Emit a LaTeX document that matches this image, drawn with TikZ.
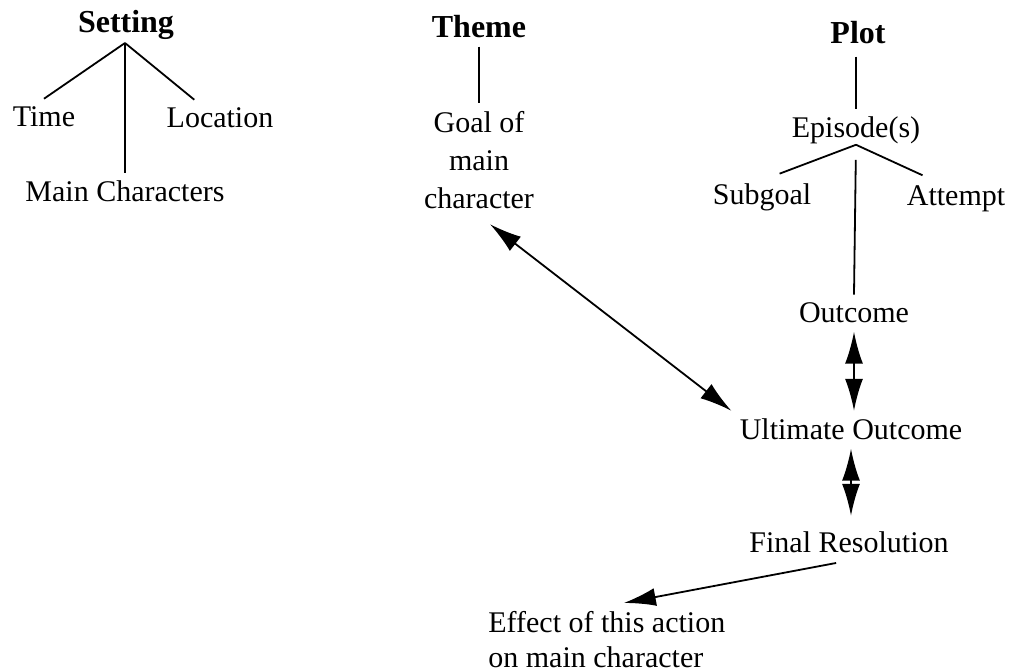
\documentclass[tikz,border=0pt]{standalone}
\usepackage{fontspec}
\setmainfont{Liberation Serif}
\usetikzlibrary{arrows.meta}
\tikzset{
  lbl/.style={inner sep=4pt, anchor=base, font=\fontsize{15}{19}\selectfont},
  head/.style={lbl, font=\fontsize{16}{19}\selectfont\bfseries},
  link/.style={line width=0.9pt},
  bigtip/.tip={Latex[length=16pt,width=9pt]},
  dbl/.style={link, bigtip-bigtip},
}
\begin{document}
\begin{tikzpicture}[x=0.5pt, y=-0.5pt]
    \useasboundingbox (0,0) rectangle (1009,672);

    % Setting
    \node[head] (setting) at (126,33) {Setting};
    \coordinate (sapex) at (125,43);
    \node[lbl] (time) at (44,127) {Time};
    \node[lbl] (location) at (220,128) {Location};
    \node[lbl] (chars) at (125,202) {Main Characters};
    \draw[link] (sapex) -- (time.north);
    \draw[link] (sapex) -- ([xshift=18pt]location.north west);
    \draw[link] (sapex) -- (chars.north);

    % Theme
    \node[head] (theme) at (479,38) {Theme};
    \node[lbl, anchor=north, align=center] (goal) at (479,103) {Goal of\\main\\character};
    \draw[link] (theme.south) -- (goal.north);

    % Plot
    \node[head] (plot) at (858,44) {Plot};
    \node[lbl] (episode) at (856,138) {Episode(s)};
    \coordinate (papex) at ([yshift=4pt]episode.south);
    \node[lbl] (subgoal) at (762,205) {Subgoal};
    \node[lbl] (attempt) at (956,206) {Attempt};
    \node[lbl] (outcome) at (854,323) {Outcome};
    \draw[link, shorten <=2pt] (episode.north |- plot.south) -- (episode.north);
    \draw[link, shorten >=3pt] (papex) -- ([xshift=6pt]subgoal.north);
    \draw[link, shorten >=3pt] (papex) -- ([xshift=-14pt]attempt.north);
    \draw[link, shorten <=7.5pt] (papex) -- (outcome.north);

    % Outcomes
    \node[lbl] (ultimate) at (851,440) {Ultimate Outcome};
    \node[lbl] (final) at (849,553) {Final Resolution};
    \node[lbl, anchor=north west, align=left, font=\fontsize{15}{17.5}\selectfont] (effect) at (480,603) {Effect of this action\\on main character};
    \draw[dbl] (outcome.south) -- (outcome.south |- ultimate.north);
    \draw[dbl, shorten >=4pt] (ultimate.south) -- (ultimate.south |- final.north);
    \draw[dbl] ([xshift=5.5pt,yshift=-3.5pt]goal.south) -- (ultimate.north west);
    \draw[link, -bigtip, shorten <=3.5pt] ([xshift=-3pt]final.south) -- ([xshift=8.5pt]effect.north);
\end{tikzpicture}
\end{document}
